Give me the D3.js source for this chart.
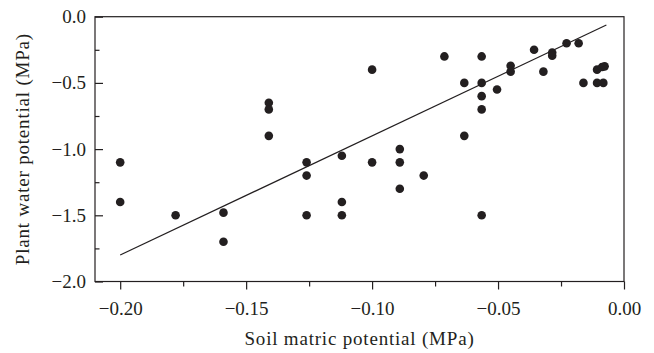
<!DOCTYPE html>
<html>
<head>
<meta charset="utf-8">
<script src="https://cdn.jsdelivr.net/npm/d3@7"></script>
<style>
  html, body { margin: 0; padding: 0; background: #fff; }
  svg { display: block; }
  text { font-family: "Liberation Serif", "DejaVu Serif", serif; fill: #231f20; }
</style>
</head>
<body>
<svg id="chart" width="654" height="353"></svg>
<script>
// Soil matric potential (MPa)
const soilPotential = [
  -0.200, -0.200, -0.178, -0.159, -0.159,
  -0.141, -0.141, -0.141, -0.126, -0.126, -0.126,
  -0.112, -0.112, -0.112, -0.100, -0.100,
  -0.089, -0.089, -0.089, -0.0795, -0.0713,
  -0.0634, -0.0634, -0.0565, -0.0565, -0.0565, -0.0565, -0.0565,
  -0.0504, -0.0450, -0.0450, -0.0357, -0.0320,
  -0.0285, -0.0285, -0.0228, -0.0180, -0.0161,
  -0.0107, -0.0087, -0.0077, -0.0107, -0.0082
];
// Plant water potential (MPa)
const plantPotential = [
  -1.10, -1.40, -1.50, -1.48, -1.70,
  -0.65, -0.70, -0.90, -1.10, -1.20, -1.50,
  -1.05, -1.40, -1.50, -0.40, -1.10,
  -1.00, -1.10, -1.30, -1.20, -0.30,
  -0.50, -0.90, -0.30, -0.50, -0.60, -0.70, -1.50,
  -0.55, -0.37, -0.415, -0.25, -0.415,
  -0.27, -0.295, -0.20, -0.20, -0.50,
  -0.40, -0.38, -0.375, -0.50, -0.50
];
// Fitted regression line end points
const fitX = [-0.200, -0.007];
const fitY = [-1.80, -0.063];

const xMajorTicks = [-0.20, -0.15, -0.10, -0.05, 0.00];
const xMinorTicks = [-0.175, -0.125, -0.075, -0.025];
const yMajorTicks = [0.0, -0.5, -1.0, -1.5, -2.0];
const yMinorTicks = [-0.25, -0.75, -1.25, -1.75];

const xTitle = "Soil matric potential (MPa)";
const yTitle = "Plant water potential (MPa)";

const margin = { left: 95, right: 30, top: 16.7, bottom: 71.5 };
const W = 654, H = 353;
const svg = d3.select("#chart");
const iw = W - margin.left - margin.right;
const ih = H - margin.top - margin.bottom;

const x = d3.scaleLinear().domain([-0.21, 0]).range([margin.left, margin.left + iw]);
const y = d3.scaleLinear().domain([-2, 0]).range([margin.top + ih, margin.top]);

const ink = "#231f20";
const fs = 19;
const fmtX = v => (v < 0 ? "\u2212" : "") + Math.abs(v).toFixed(2);
const fmtY = v => (v < 0 ? "\u2212" : "") + Math.abs(v).toFixed(1);

// frame
svg.append("rect")
  .attr("x", margin.left).attr("y", margin.top)
  .attr("width", iw).attr("height", ih)
  .attr("fill", "none").attr("stroke", ink).attr("stroke-width", 1.2);

// x axis (ticks outward)
const gx = svg.append("g").attr("transform", `translate(0,${margin.top + ih})`);
gx.call(d3.axisBottom(x).tickValues(xMajorTicks).tickFormat(fmtX).tickSize(8).tickPadding(12))
  .call(g => g.select(".domain").remove());
gx.selectAll("line").attr("stroke", ink).attr("stroke-width", 1.2);
gx.selectAll("text").attr("font-size", fs).attr("font-family", "Liberation Serif").attr("fill", ink);
const gxm = svg.append("g").attr("transform", `translate(0,${margin.top + ih})`);
gxm.call(d3.axisBottom(x).tickValues(xMinorTicks).tickFormat("").tickSize(5))
  .call(g => g.select(".domain").remove());
gxm.selectAll("line").attr("stroke", ink).attr("stroke-width", 1.2);

// y axis (ticks inward)
const gy = svg.append("g").attr("transform", `translate(${margin.left},0)`);
gy.call(d3.axisLeft(y).tickValues(yMajorTicks).tickFormat(fmtY).tickSize(-8).tickPadding(9))
  .call(g => g.select(".domain").remove());
gy.selectAll("line").attr("stroke", ink).attr("stroke-width", 1.2);
gy.selectAll("text").attr("font-size", fs).attr("font-family", "Liberation Serif").attr("fill", ink);
const gym = svg.append("g").attr("transform", `translate(${margin.left},0)`);
gym.call(d3.axisLeft(y).tickValues(yMinorTicks).tickFormat("").tickSize(-4.5))
  .call(g => g.select(".domain").remove());
gym.selectAll("line").attr("stroke", ink).attr("stroke-width", 1.2);

// regression line
const line = d3.line().x(d => x(d[0])).y(d => y(d[1]));
svg.append("path")
  .datum(d3.zip(fitX, fitY))
  .attr("d", line)
  .attr("fill", "none").attr("stroke", ink).attr("stroke-width", 1.2);

// points
svg.append("g").selectAll("circle")
  .data(d3.zip(soilPotential, plantPotential))
  .join("circle")
  .attr("cx", d => x(d[0])).attr("cy", d => y(d[1]))
  .attr("r", 4.3).attr("fill", ink);

// titles
svg.append("text")
  .attr("x", margin.left + iw / 2).attr("y", 345)
  .attr("text-anchor", "middle").attr("font-size", fs)
  .attr("letter-spacing", 0.8)
  .text(xTitle);
svg.append("text")
  .attr("transform", `translate(29,${margin.top + ih / 2}) rotate(-90)`)
  .attr("text-anchor", "middle").attr("font-size", fs)
  .attr("letter-spacing", 0.8)
  .text(yTitle);
</script>
</body>
</html>
